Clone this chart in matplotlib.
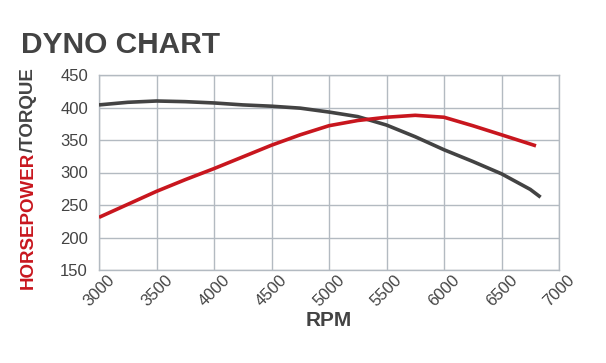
import matplotlib
matplotlib.use("Agg")
import matplotlib.pyplot as plt
import matplotlib.transforms as mtransforms

rpm_tq = [3000, 3250, 3500, 3750, 4000, 4250, 4500, 4750, 5000, 5250, 5500, 5750, 6000, 6250, 6500, 6750, 6840]
torque = [404, 408, 410, 409, 407, 404, 402, 399, 393, 386, 373, 355, 335, 317, 298, 274, 262]
rpm_hp = [3000, 3250, 3500, 3750, 4000, 4250, 4500, 4750, 5000, 5250, 5500, 5750, 6000, 6250, 6500, 6800]
horsepower = [231, 251, 271, 289, 306, 324, 342, 358, 372, 380, 385, 388, 385, 372, 358, 341]
x_ticks = [3000, 3500, 4000, 4500, 5000, 5500, 6000, 6500, 7000]
y_ticks = [150, 200, 250, 300, 350, 400, 450]

RED = "#c8161e"
DARK = "#434343"
GRID = "#b3bac1"

plt.rcParams['font.family'] = ['Liberation Sans', 'DejaVu Sans']

fig = plt.figure(figsize=(6.06, 3.63), dpi=100)
ax = fig.add_axes([99/606, 1-270/363, 460/606, 195/363])

ax.plot(rpm_tq, torque, color=DARK, lw=2.6, solid_capstyle='butt', solid_joinstyle='round', zorder=3)
ax.plot(rpm_hp, horsepower, color=RED, lw=2.6, solid_capstyle='butt', solid_joinstyle='round', zorder=4)

ax.set_xlim(3000, 7000)
ax.set_ylim(150, 450)
ax.set_xticks(x_ticks)
ax.set_yticks(y_ticks)
ax.set_xticklabels([str(v) for v in x_ticks], rotation=45, ha='right', va='top',
                   rotation_mode='anchor', fontsize=12, color=DARK)
ax.set_yticklabels([str(v) for v in y_ticks], fontsize=12, color=DARK)
ax.tick_params(axis='both', length=0)
ax.tick_params(axis='y', pad=8)
ax.tick_params(axis='x', pad=2)
offset = mtransforms.ScaledTranslation(8/100, 0, fig.dpi_scale_trans)
for lbl in ax.get_xticklabels():
    lbl.set_transform(lbl.get_transform() + offset)
ax.grid(True, color=GRID, lw=1)
ax.set_axisbelow(True)
for s in ax.spines.values():
    s.set_color(GRID)
    s.set_linewidth(1)

ax.set_xlabel("RPM", fontsize=15, fontweight='bold', color=DARK, labelpad=1)

fig.text(21/606, 1-53/363, "DYNO CHART", fontsize=21.5, fontweight='bold', color=DARK,
         ha='left', va='baseline')

# two-colour y label
fig.canvas.draw()
r = fig.canvas.get_renderer()
x_lab = 28/606
y0 = 1-289/363
t1 = fig.text(x_lab, y0, "HORSEPOWER", rotation=90, fontsize=13.5, fontweight='bold',
              color=RED, ha='center', va='bottom')
bb = t1.get_window_extent(r)
y1 = bb.y1 / fig.bbox.height
fig.text(x_lab, y1, "/TORQUE", rotation=90, fontsize=13.5, fontweight='bold',
         color=DARK, ha='center', va='bottom')

fig.savefig("out.png", dpi=100)
